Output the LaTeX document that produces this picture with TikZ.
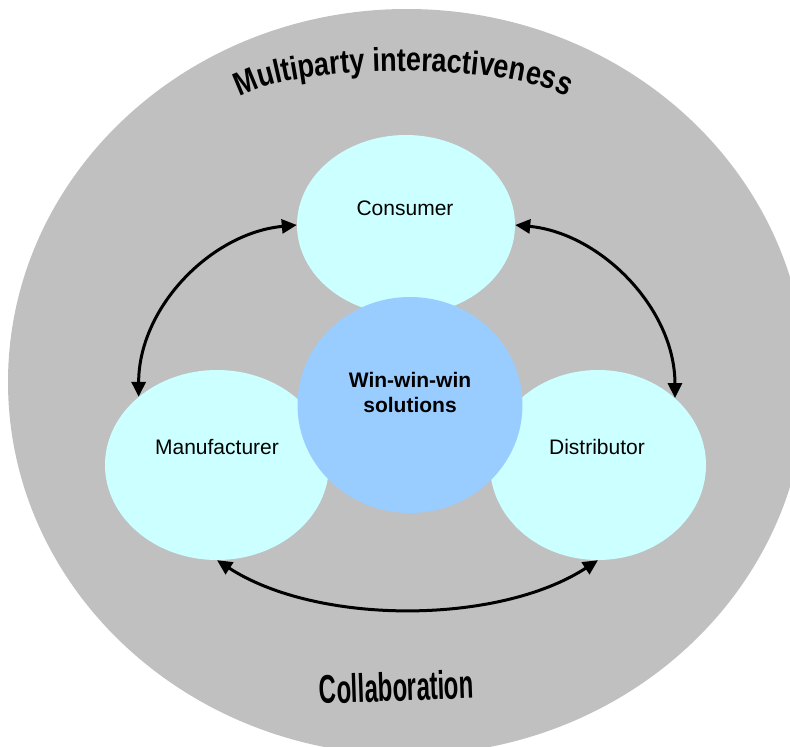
\documentclass[tikz,border=0pt]{standalone}
\usepackage{fontspec}
\setmainfont{Liberation Sans}
\newfontfamily\wafont[FakeStretch=0.82]{Liberation Sans Bold}
\newfontfamily\cofont[FakeStretch=0.6]{Liberation Sans Bold}
\usetikzlibrary{shapes.geometric,arrows.meta,decorations.text,calc}
\definecolor{outergray}{HTML}{C0C0C0}
\definecolor{partycyan}{HTML}{CCFFFF}
\definecolor{winblue}{HTML}{99CCFF}
\tikzset{
  party/.style={ellipse, fill=partycyan, inner sep=0pt, minimum width=224pt, minimum height=190pt},
  partytext/.style={font=\fontsize{21}{25}\selectfont, inner sep=0pt},
  conn/.style={line width=3pt, {Triangle[length=15pt,width=14pt]}-{Triangle[length=15pt,width=14pt]}}
}
\begin{document}
\begin{tikzpicture}[x=1pt,y=1pt]
\useasboundingbox (0,0) rectangle (790,-747);
\clip (0,0) rectangle (790,-747);
\node[ellipse, fill=outergray, inner sep=0pt, minimum width=798pt, minimum height=746pt] (outer) at (407,-382) {};

\node[party, minimum width=218pt, minimum height=180pt] (consumer) at (406,-225) {};
\node[party] (manufacturer) at (217,-465) {};
\node[party, minimum width=216pt] (distributor) at (598,-465) {};
\node[ellipse, fill=winblue, inner sep=0pt, minimum width=225pt, minimum height=216pt] (win) at (410,-405) {};

\node[partytext] (consumerlabel) at (405,-208) {Consumer};
\node[partytext] (manufacturerlabel) at (217,-447) {Manufacturer};
\node[partytext] (distributorlabel) at (597,-447) {Distributor};
\node[font=\fontsize{21}{25}\selectfont\bfseries, align=center, inner sep=0pt] (winlabel) at (410,-392) {Win-win-win\\solutions};

\draw[conn] (manufacturer.139) .. controls +(0,90) and +(-85,-8) .. (consumer.west);
\draw[conn] (distributor.41) .. controls +(0,90) and +(85,-8) .. (consumer.east);
\draw[conn] (manufacturer.south) .. controls +(100,-65) and +(-100,-65) .. (distributor.south);

\path[decorate, decoration={text along path, text align=center,
  text={|\wafont\fontsize{33}{40}\selectfont|Multiparty interactiveness}}]
  (228,-111) arc[start angle=180, end angle=0, x radius=175, y radius=40];

\node[font=\cofont\fontsize{40}{46}\selectfont, anchor=base, rotate=2, inner sep=0pt] (collab) at (397,-701) {Collaboration};
\end{tikzpicture}
\end{document}
